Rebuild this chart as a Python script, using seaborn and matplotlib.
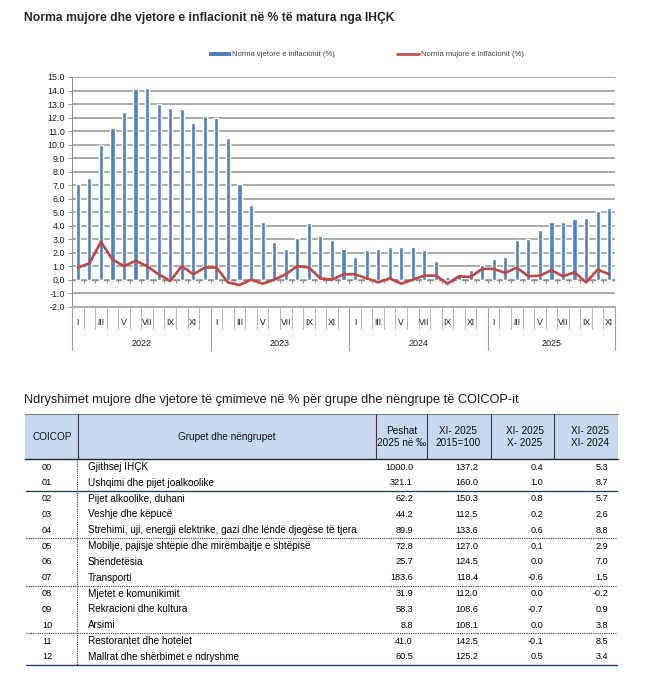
import matplotlib

matplotlib.use("Agg")
import matplotlib.pyplot as plt
import numpy as np
import pandas as pd
import seaborn as sns
from matplotlib import font_manager
from matplotlib.lines import Line2D
from matplotlib.patches import Patch, Rectangle

W, H = 663, 693

# --- chart data -------------------------------------------------------------
MONTHS = ["I", "II", "III", "IV", "V", "VI", "VII", "VIII", "IX", "X", "XI", "XII"]
YEARS = ["2022", "2023", "2024", "2025"]
MONTHS_PER_YEAR = [12, 12, 12, 11]

ANNUAL = [
    7.1, 7.5, 10.0, 11.2, 12.4, 14.1, 14.2, 13.0, 12.7, 12.6, 11.6, 12.1,
    12.0, 10.5, 7.1, 5.5, 4.3, 2.8, 2.3, 3.1, 4.2, 3.2, 2.9, 2.3,
    1.7, 2.2, 2.3, 2.4, 2.4, 2.4, 2.2, 1.4, 0.2, 0.4, 0.7, 1.1,
    1.5, 1.7, 2.9, 3.0, 3.7, 4.3, 4.3, 4.5, 4.6, 5.1, 5.3,
]
MONTHLY = [
    0.9, 1.2, 2.8, 1.5, 1.0, 1.4, 1.0, 0.4, -0.1, 1.0, 0.4, 0.9,
    0.9, -0.2, -0.4, 0.0, -0.3, 0.0, 0.4, 1.0, 0.9, 0.1, 0.0, 0.4,
    0.4, 0.1, -0.2, 0.1, -0.3, 0.0, 0.3, 0.3, -0.3, 0.25, 0.2, 0.8,
    0.8, 0.5, 0.9, 0.25, 0.3, 0.7, 0.25, 0.55, -0.2, 0.75, 0.4,
]
Y_TICKS = list(range(-2, 16))

CHART_TITLE = "Norma mujore dhe vjetore e inflacionit në % të matura nga IHÇK"
LEGEND_LABELS = ["Norma vjetore e inflacionit (%)", "Norma mujore e inflacionit (%)"]

# --- table data -------------------------------------------------------------
TABLE_TITLE = "Ndryshimet mujore dhe vjetore të çmimeve në % për grupe dhe nëngrupe të COICOP-it"
HEADERS = ["COICOP", "Grupet dhe nëngrupet", "Peshat\n2025 në ‰", "XI- 2025\n2015=100",
           "XI- 2025\nX- 2025", "XI- 2025\nXI- 2024"]
CODES = ["00", "01", "02", "03", "04", "05", "06", "07", "08", "09", "10", "11", "12"]
GROUPS = [
    "Gjithsej IHÇK",
    "Ushqimi dhe pijet joalkoolike",
    "Pijet alkoolike, duhani",
    "Veshje dhe këpucë",
    "Strehimi, uji, energji elektrike, gazi dhe lëndë djegëse të tjera",
    "Mobilje, pajisje shtëpie dhe mirëmbajtje e shtëpisë",
    "Shëndetësia",
    "Transporti",
    "Mjetet e komunikimit",
    "Rekracioni dhe kultura",
    "Arsimi",
    "Restorantet dhe hotelet",
    "Mallrat dhe shërbimet e ndryshme",
]
WEIGHTS = [1000.0, 321.1, 62.2, 44.2, 89.9, 72.8, 25.7, 183.6, 31.9, 58.3, 8.8, 41.0, 60.5]
INDEX_2015 = [137.2, 160.0, 150.3, 112.5, 133.6, 127.0, 124.5, 118.4, 112.0, 108.6, 108.1, 142.5, 125.2]
CHANGE_MONTH = [0.4, 1.0, 0.8, 0.2, 0.6, 0.1, 0.0, -0.6, 0.0, -0.7, 0.0, -0.1, 0.5]
CHANGE_YEAR = [5.3, 8.7, 5.7, 2.6, 8.8, 2.9, 7.0, 1.5, -0.2, 0.9, 3.8, 8.5, 3.4]
GROUP_BREAKS = [1, 4, 7, 10]

BLUE = "#4f81bd"
RED = "#bc4845"
GRID = "#a9a9a9"


def px(x, y):
    return x / W, 1 - y / H


def main() -> None:
    sns.set_theme(style="white")
    plt.rcParams["font.family"] = ["Liberation Sans", "DejaVu Sans"]
    names = {f.name for f in font_manager.fontManager.ttflist}
    narrow = "Liberation Sans Narrow" if "Liberation Sans Narrow" in names else "Liberation Sans"
    text_size = 7.9 if narrow == "Liberation Sans Narrow" else 7.2
    num_size = 7.2 if narrow == "Liberation Sans Narrow" else 6.6
    tfam = [narrow, "DejaVu Sans"]

    fig = plt.figure(figsize=(W / 100, H / 100), dpi=100)
    fig.patch.set_facecolor("white")

    # ---------------- chart ----------------
    left, top, right, bottom = 72, 77, 615, 306.7
    ax = fig.add_axes([left / W, 1 - bottom / H, (right - left) / W, (bottom - top) / H])
    ax.set_facecolor("none")

    n = len(ANNUAL)
    df = pd.DataFrame({"idx": np.arange(n), "annual": ANNUAL, "monthly": MONTHLY})

    ax.set_axisbelow(True)
    ax.yaxis.grid(True, color=GRID, lw=1.4)
    ax.xaxis.grid(False)

    sns.barplot(data=df, x="idx", y="annual", color=BLUE, saturation=1, width=0.36,
                ax=ax, zorder=3)
    ax.axhline(0, color="#8c8c8c", lw=1.0, zorder=2.5)
    bounds = np.arange(n + 1) - 0.5
    ax.vlines(bounds, -0.22, 0, color="#8c8c8c", lw=0.7, zorder=2.5)
    sns.lineplot(data=df, x="idx", y="monthly", color=RED, lw=1.9, ax=ax, zorder=4)

    ax.set_xlim(-0.5, n - 0.5)
    ax.set_ylim(-2, 15)
    ax.set_yticks(Y_TICKS)
    ax.set_yticklabels([f"{v:.1f}" for v in Y_TICKS])
    ax.set_xticks([])
    ax.set_xlabel("")
    ax.set_ylabel("")
    ax.tick_params(axis="y", left=True, length=3, width=0.6, color="#8c8c8c",
                   labelsize=6.4, pad=2, labelcolor="#1a1a1a")
    for side in ["top", "right"]:
        ax.spines[side].set_visible(False)
    ax.spines["left"].set_color("#8c8c8c")
    ax.spines["left"].set_linewidth(0.7)
    ax.spines["bottom"].set_color(GRID)
    ax.spines["bottom"].set_linewidth(1.4)

    # category band under the plot
    trans = ax.get_xaxis_transform()
    axes_h = bottom - top
    month_end = -(329 - bottom) / axes_h
    year_end = -(350 - bottom) / axes_h
    year_starts = np.concatenate([[0], np.cumsum(MONTHS_PER_YEAR)])
    for b in bounds:
        ax.plot([b, b], [0, month_end], transform=trans, color="#b5b5b5", lw=0.7, clip_on=False)
    for s in year_starts:
        ax.plot([s - 0.5, s - 0.5], [0, year_end], transform=trans, color="#a0a0a0", lw=0.8,
                clip_on=False)
    for i in range(n):
        if i % 2 == 0:
            ax.text(i, -(322 - bottom) / axes_h, MONTHS[i % 12], transform=trans, ha="center",
                    va="center", fontsize=6.2, color="#1a1a1a")
    for k, year in enumerate(YEARS):
        mid = (year_starts[k] + year_starts[k + 1] - 1) / 2
        ax.text(mid, -(343 - bottom) / axes_h, year, transform=trans, ha="center",
                va="center", fontsize=6.5, color="#1a1a1a")

    fig.text(*px(24, 18), CHART_TITLE, fontsize=8.7, weight="bold", va="center",
             color="#262626")
    handles = [Patch(facecolor=BLUE, edgecolor="none"), Line2D([], [], color=RED, lw=1.9)]
    fig.legend(handles, LEGEND_LABELS, loc="center", bbox_to_anchor=px(366, 55), ncol=2,
               frameon=False, fontsize=5.5, handlelength=2.9, handleheight=0.5,
               handletextpad=0.15, columnspacing=8.2, labelcolor="#404040")

    # ---------------- table ----------------
    tax = fig.add_axes([0, 0, 1, 1], zorder=-1)
    tax.set_xlim(0, W)
    tax.set_ylim(H, 0)
    tax.axis("off")

    tax.text(24, 400, TABLE_TITLE, fontsize=9.2, va="center", ha="left", color="#1a1a1a")

    t_left, t_right, h_top, h_bot = 25, 618, 414, 459
    tax.add_patch(Rectangle((t_left, h_top), t_right - t_left, h_bot - h_top,
                            facecolor="#c6d9f1", edgecolor="none"))
    tax.plot([t_left, t_right], [h_top, h_top], color="#7f7f7f", lw=0.8)
    tax.plot([t_left, t_right], [h_bot, h_bot], color="#262626", lw=1.0)
    for xv in [78, 376, 427, 491, 554]:
        tax.plot([xv, xv], [h_top, h_bot], color="#3a3a3a", lw=0.8)

    head_x = [52, 227, 402, 458, 525, 590]
    for xv, label in zip(head_x, HEADERS):
        tax.text(xv, 437, label, ha="center", va="center", fontsize=text_size,
                 family=tfam, color="#111111", linespacing=1.3)

    row_y = [467 + i * 15.83 for i in range(len(CODES))]
    cols = [(413, WEIGHTS), (478, INDEX_2015), (543, CHANGE_MONTH), (608, CHANGE_YEAR)]
    for i, y in enumerate(row_y):
        tax.text(42, y, CODES[i], ha="left", va="center", fontsize=num_size,
                 family=tfam, color="#000000")
        tax.text(88, y, GROUPS[i], ha="left", va="center", fontsize=text_size,
                 family=tfam, color="#000000")
        for xv, values in cols:
            tax.text(xv, y, f"{values[i]:.1f}", ha="right", va="center", fontsize=num_size,
                     family=tfam, color="#000000")

    for k in GROUP_BREAKS:
        ys = row_y[k] + 7.9
        if k == GROUP_BREAKS[0]:
            tax.plot([t_left + 1, t_right - 1], [ys, ys], color="#24405e", lw=1.0)
        else:
            tax.plot([t_left + 1, t_right - 1], [ys, ys], color="#3a3a3a", lw=0.8,
                     ls=(0, (1, 1)))
    y_end = row_y[-1] + 8
    tax.plot([t_left + 1, t_right - 1], [y_end, y_end], color="#24405e", lw=1.0)
    tax.plot([77, 77], [h_bot, y_end], color="#3a3a3a", lw=0.8, ls=(0, (1, 1)))

    fig.savefig("out.png", dpi=100)
    plt.close(fig)


if __name__ == "__main__":
    main()
